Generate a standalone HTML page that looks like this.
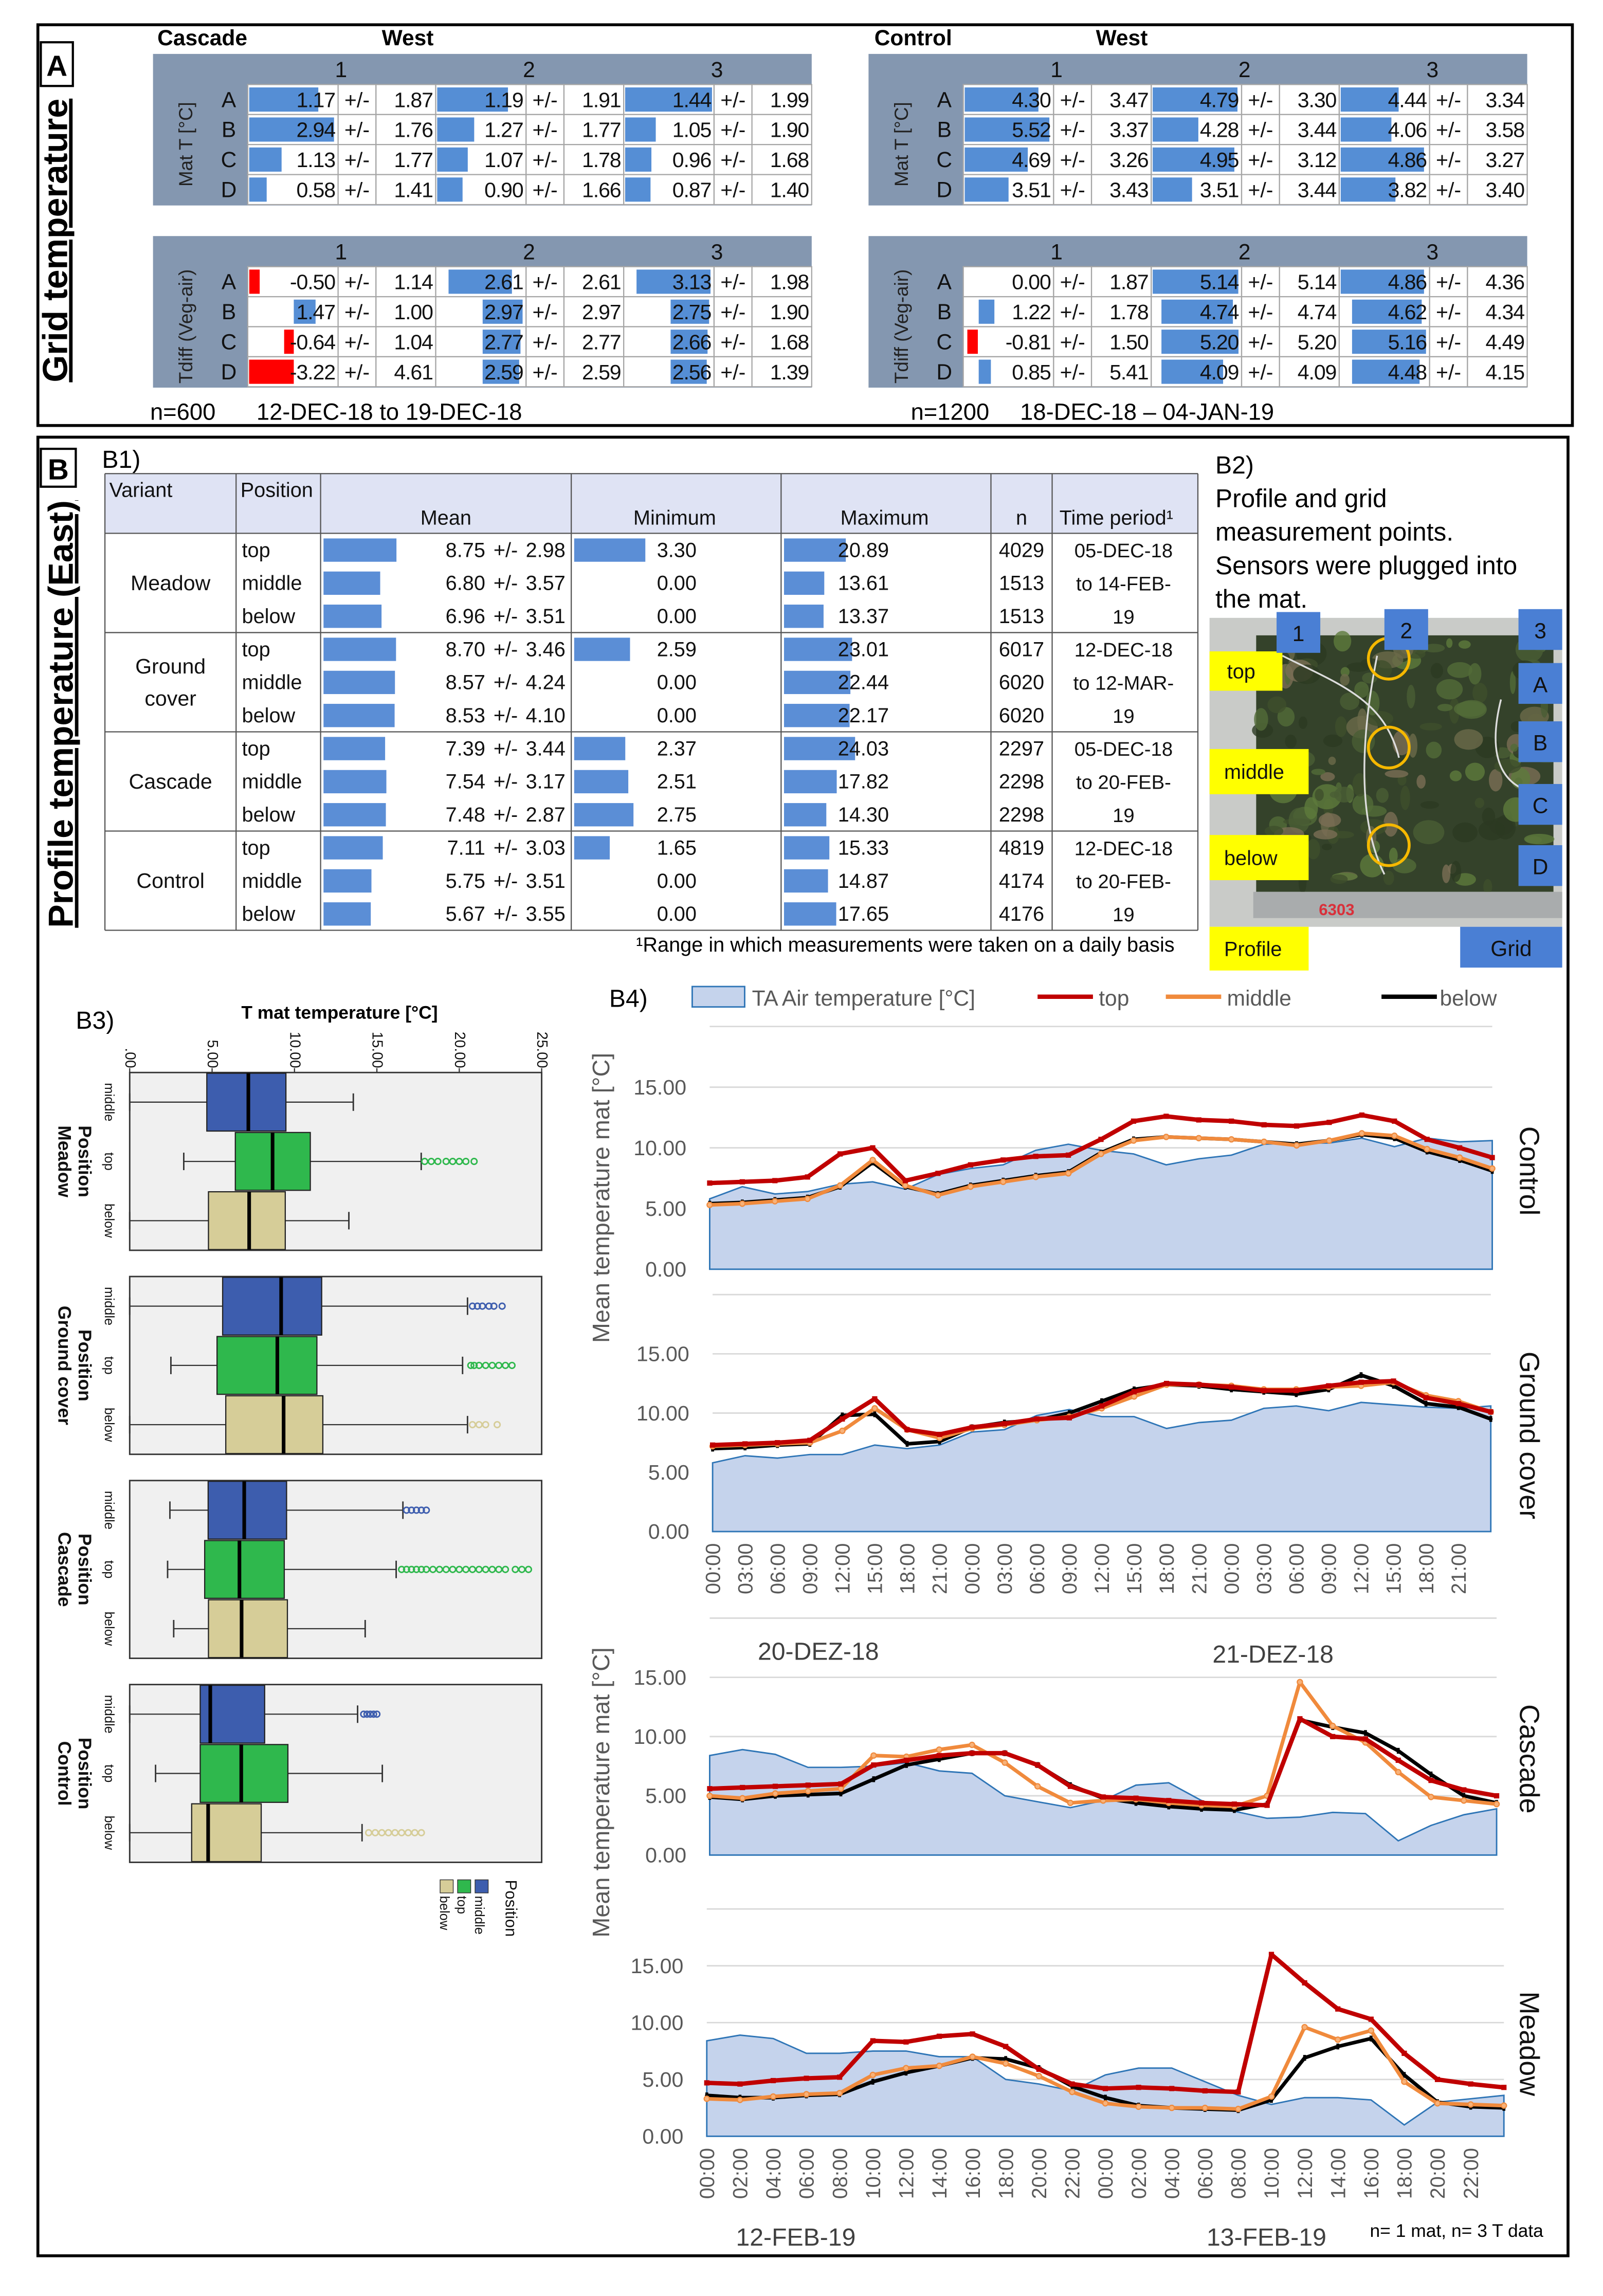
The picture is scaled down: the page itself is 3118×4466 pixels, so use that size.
<!DOCTYPE html>
<html><head><meta charset="utf-8">
<style>
html,body{margin:0;padding:0;background:#fff}
svg{display:block}
text{font-family:"Liberation Sans",Arial,sans-serif}
</style></head>
<body>
<svg id="fig" xmlns="http://www.w3.org/2000/svg" width="3118" height="4466" viewBox="0 0 1100 1575.6" preserveAspectRatio="none">
<rect x="0" y="0" width="1100" height="1575.6" fill="#fff"/>
<rect x="26" y="17" width="1053" height="275" fill="none" stroke="#000" stroke-width="2"/>
<rect x="28" y="29" width="22" height="30" fill="#fff" stroke="#000" stroke-width="1.5"/>
<text x="39" y="52" font-size="20" font-weight="bold" text-anchor="middle">A</text>
<text transform="translate(46,165) rotate(-90)" font-size="24" font-weight="bold" text-anchor="middle" text-decoration="underline">Grid temperature</text>
<text x="108" y="31" font-size="15" font-weight="bold">Cascade</text>
<text x="262" y="31" font-size="15" font-weight="bold">West</text>
<text x="600" y="31" font-size="15" font-weight="bold">Control</text>
<text x="752" y="31" font-size="15" font-weight="bold">West</text>
<text x="103" y="288" font-size="16">n=600</text>
<text x="176" y="288" font-size="16">12-DEC-18 to 19-DEC-18</text>
<text x="625" y="288" font-size="16">n=1200</text>
<text x="700" y="288" font-size="16">18-DEC-18 – 04-JAN-19</text>
<rect x="26" y="300" width="1050" height="1248" fill="none" stroke="#000" stroke-width="2"/>
<rect x="28" y="308" width="24" height="26" fill="#fff" stroke="#000" stroke-width="1.5"/>
<text x="40" y="329" font-size="20" font-weight="bold" text-anchor="middle">B</text>
<text transform="translate(50,490) rotate(-90)" font-size="24" font-weight="bold" text-anchor="middle" text-decoration="underline">Profile temperature (East)</text>
<text x="70" y="321" font-size="17">B1)</text>
<text x="834" y="325" font-size="17">B2)</text>
<text x="834" y="348" font-size="17.5">Profile and grid</text>
<text x="834" y="371" font-size="17.5">measurement points.</text>
<text x="834" y="394" font-size="17.5">Sensors were plugged into</text>
<text x="834" y="417" font-size="17.5">the mat.</text>
<text x="52" y="706" font-size="17">B3)</text>
<text x="233" y="699" font-size="12.5" font-weight="bold" text-anchor="middle">T mat temperature [°C]</text>
<text x="418" y="691" font-size="17">B4)</text>
<text x="806" y="653" font-size="14" text-anchor="end">¹Range in which measurements were taken on a daily basis</text>
<text x="940" y="1535" font-size="12.5">n= 1 mat, n= 3 T data</text>
<g id="dyn"></g>
</svg>
<script>
const gridRows = ['A','B','C','D'];
const gridCols = ['1','2','3'];
const cascMatMean = [[1.17,1.19,1.44],[2.94,1.27,1.05],[1.13,1.07,0.96],[0.58,0.90,0.87]];
const cascMatSd = [[1.87,1.91,1.99],[1.76,1.77,1.90],[1.77,1.78,1.68],[1.41,1.66,1.40]];
const cascMatScale = [[1.48,1.47,1.45],[3.03,3.0,3.0],[3.05,3.06,3.2],[2.9,3.1,3.0]];
const cascDiffMean = [[-0.50,2.61,3.13],[1.47,2.97,2.75],[-0.64,2.77,2.66],[-3.22,2.59,2.56]];
const cascDiffSd = [[1.14,2.61,1.98],[1.00,2.97,1.90],[1.04,2.77,1.68],[4.61,2.59,1.39]];
const cascDiffAxis = [[0.12,0.13,0.13],[0.51,0.52,0.52],[0.51,0.52,0.52],[0.51,0.52,0.52]];
const cascDiffScale = [[4.2,3.6,3.7],[5.9,6.5,6.25],[5.8,6.4,6.3],[6.3,6.2,6.2]];
const ctrlMatMean = [[4.30,4.79,4.44],[5.52,4.28,4.06],[4.69,4.95,4.86],[3.51,3.51,3.82]];
const ctrlMatSd = [[3.47,3.30,3.34],[3.37,3.44,3.58],[3.26,3.12,3.27],[3.43,3.44,3.40]];
const ctrlMatScale = [[5.1,4.94,6.7],[5.7,8.2,7.0],[6.5,5.3,5.1],[7.0,7.8,6.1]];
const ctrlDiffMean = [[0.00,5.14,4.86],[1.22,4.74,4.62],[-0.81,5.20,5.16],[0.85,4.09,4.48]];
const ctrlDiffSd = [[1.87,5.14,4.36],[1.78,4.74,4.34],[1.50,5.20,4.49],[5.41,4.09,4.15]];
const ctrlDiffAxis = [[0.16,0,0],[0.16,0.1,0.13],[0.15,0.1,0.13],[0.16,0.1,0.13]];
const ctrlDiffScale = [[6.8,5.25,5.1],[6.8,5.8,5.8],[6.75,5.9,6.1],[6.1,5.8,5.8]];

const b1Variants = ['Meadow','Ground cover','Cascade','Control'];
const b1Positions = ['top','middle','below'];
const b1Mean = [8.75,6.80,6.96,8.70,8.57,8.53,7.39,7.54,7.48,7.11,5.75,5.67];
const b1Sd = [2.98,3.57,3.51,3.46,4.24,4.10,3.44,3.17,2.87,3.03,3.51,3.55];
const b1Min = [3.30,0.00,0.00,2.59,0.00,0.00,2.37,2.51,2.75,1.65,0.00,0.00];
const b1Max = [20.89,13.61,13.37,23.01,22.44,22.17,24.03,17.82,14.30,15.33,14.87,17.65];
const b1N = [4029,1513,1513,6017,6020,6020,2297,2298,2298,4819,4174,4176];
const b1Period = [['05-DEC-18','to 14-FEB-','19'],['12-DEC-18','to 12-MAR-','19'],['05-DEC-18','to 20-FEB-','19'],['12-DEC-18','to 20-FEB-','19']];

const bpVariants = ['Meadow','Ground cover','Cascade','Control'];
const bpPositions = ['middle','top','below'];
const bpQ1 = [[4.68,6.41,4.78],[5.64,5.30,5.83],[4.76,4.55,4.78],[4.28,4.28,3.76]];
const bpMed = [[7.20,8.67,7.25],[9.19,8.96,9.34],[6.95,6.66,6.79],[4.89,6.77,4.76]];
const bpQ3 = [[9.48,10.96,9.44],[11.65,11.36,11.72],[9.52,9.38,9.57],[8.19,9.60,7.98]];
const bpLo = [[0,3.28,0],[0,2.50,0],[2.44,2.30,2.67],[0,1.57,0]];
const bpHi = [[13.57,17.69,13.30],[20.50,20.20,20.50],[16.58,16.17,14.29],[13.83,15.33,14.10]];
const bpOut = [
 [[],[17.9,18.3,18.7,19.2,19.6,20.0,20.4,20.9],[]],
 [[20.8,21.1,21.4,21.8,22.1,22.6],[20.7,20.9,21.2,21.6,22.0,22.4,22.8,23.2],[20.8,21.2,21.6,22.3]],
 [[16.8,17.1,17.4,17.7,18.0],[16.5,16.8,17.1,17.4,17.7,18.0,18.4,18.8,19.2,19.6,20.0,20.4,20.8,21.2,21.6,22.0,22.4,22.8,23.4,23.8,24.2],[]],
 [[14.2,14.4,14.6,14.8,15.0],[],[14.5,14.9,15.3,15.7,16.1,16.5,16.9,17.3,17.7]]
];
const bpTicks = [0,5,10,15,20,25];
const bpTickLabels = ['.00','5.00','10.00','15.00','20.00','25.00'];

const xLabels3h = ['00:00','03:00','06:00','09:00','12:00','15:00','18:00','21:00','00:00','03:00','06:00','09:00','12:00','15:00','18:00','21:00','00:00','03:00','06:00','09:00','12:00','15:00','18:00','21:00'];
const xLabels2h = ['00:00','02:00','04:00','06:00','08:00','10:00','12:00','14:00','16:00','18:00','20:00','22:00','00:00','02:00','04:00','06:00','08:00','10:00','12:00','14:00','16:00','18:00','20:00','22:00'];
const yTicks = [0,5,10,15];
const yTickLabels = ['0.00','5.00','10.00','15.00'];
const ctrlAir = [5.8,6.8,6.2,6.4,7.0,7.2,6.6,7.8,8.3,8.6,9.8,10.3,9.8,9.5,8.6,9.1,9.4,10.3,10.4,10.4,10.8,10.1,10.8,10.5,10.6];
const ctrlTop = [7.1,7.2,7.3,7.6,9.5,10.0,7.3,7.9,8.6,9.0,9.3,9.4,10.7,12.2,12.6,12.3,12.2,11.9,11.8,12.1,12.7,12.2,10.7,10.0,9.2];
const ctrlMid = [5.3,5.4,5.6,5.8,6.9,9.0,6.9,6.1,6.8,7.2,7.6,7.9,9.5,10.6,10.9,10.8,10.7,10.5,10.2,10.6,11.2,11.0,9.9,9.2,8.3];
const ctrlBelow = [5.4,5.5,5.7,5.9,6.8,8.8,6.8,6.2,6.9,7.3,7.7,8.0,9.6,10.7,10.9,10.8,10.7,10.5,10.3,10.6,11.1,10.8,9.7,9.0,8.1];
const gcAir = [5.8,6.4,6.2,6.5,6.5,7.3,7.0,7.3,8.4,8.6,9.8,10.3,9.7,9.7,8.7,9.2,9.4,10.4,10.6,10.2,10.9,10.7,10.5,10.4,10.6];
const gcTop = [7.3,7.4,7.5,7.7,9.5,11.2,8.6,8.2,8.8,9.1,9.5,9.6,10.6,11.8,12.5,12.4,12.2,11.9,11.9,12.3,12.6,12.7,11.3,10.8,10.1];
const gcMid = [7.2,7.3,7.4,7.5,8.5,10.4,8.6,7.9,8.7,9.0,9.4,9.7,10.4,11.4,12.4,12.4,12.3,12.0,12.0,12.2,12.3,12.6,11.5,11.0,10.1];
const gcBelow = [7.0,7.1,7.3,7.4,9.8,9.9,7.4,7.6,8.8,9.2,9.4,10.0,11.0,12.0,12.4,12.3,12.0,11.8,11.6,12.0,13.2,12.3,10.8,10.5,9.5];
const casAir = [8.4,8.9,8.5,7.4,7.4,7.5,7.8,7.1,6.9,5.0,4.5,4.0,4.6,5.9,6.1,4.6,3.7,3.1,3.2,3.6,3.5,1.2,2.5,3.4,3.9];
const casTop = [5.6,5.7,5.8,5.9,6.0,7.6,8.0,8.4,8.6,8.6,7.6,5.8,4.9,4.8,4.6,4.4,4.3,4.2,11.5,10.0,9.8,8.0,6.3,5.5,5.0];
const casMid = [5.0,4.8,5.2,5.4,5.6,8.4,8.3,8.9,9.3,7.8,5.8,4.4,4.6,4.7,4.4,4.2,4.1,5.0,14.6,10.9,9.5,7.0,4.9,4.6,4.3];
const casBelow = [4.9,4.7,5.0,5.1,5.2,6.4,7.6,8.1,8.6,8.6,7.6,5.9,4.8,4.4,4.1,3.9,3.8,4.3,11.4,10.8,10.3,8.8,6.8,5.0,4.4];
const meaAir = [8.4,8.9,8.6,7.3,7.3,7.5,7.5,7.0,7.0,5.0,4.6,4.0,5.4,6.0,6.0,4.8,3.6,2.8,3.4,3.4,3.2,1.0,3.0,3.3,3.6];
const meaTop = [4.7,4.6,4.9,5.1,5.2,8.4,8.3,8.8,9.0,7.9,5.9,4.6,4.2,4.3,4.2,4.0,3.9,16.0,13.5,11.2,10.3,7.3,5.0,4.6,4.3];
const meaMid = [3.3,3.2,3.5,3.7,3.8,5.4,6.0,6.2,7.0,6.4,5.3,3.9,2.9,2.6,2.5,2.5,2.4,3.5,9.6,8.5,9.3,4.8,2.9,2.8,2.7];
const meaBelow = [3.6,3.4,3.4,3.6,3.7,4.8,5.6,6.2,6.9,6.8,6.0,4.4,3.4,2.7,2.5,2.4,2.3,3.2,6.9,7.9,8.6,5.4,3.0,2.6,2.5];

const NS = 'http://www.w3.org/2000/svg';
const root = document.getElementById('dyn');
function mk(tag, attrs, parent){ const e = document.createElementNS(NS, tag); for (const k in attrs) e.setAttribute(k, attrs[k]); (parent||root).appendChild(e); return e; }
function tx(str, attrs, parent){ const e = mk('text', attrs, parent); e.textContent = str; return e; }

function gridTable(gx, gy, name, vlabel, means, sds, scales, axes, isDiff){
  const g = mk('g', {});
  
  
  const bg = mk('rect', {x:gx, y:gy, width:452, height:104, fill:'#8497b0'}, g);
  
  
  const vl = tx(vlabel, {transform:`translate(${gx+27},${gy+62}) rotate(-90)`, 'font-size':13, 'text-anchor':'middle', fill:'#222'}, g);
  
  
  const cellX0 = gx + 65, grpW = 129, rowH = 20.6;
  gridCols.forEach((c, ci) => {
    const h = tx(c, {x: cellX0 + grpW*ci + 64, y: gy+16, 'font-size':15, 'text-anchor':'middle', fill:'#111'}, g);
    
    
  });
  gridRows.forEach((r, ri) => {
    const ry = gy + 21 + rowH*ri;
    const lt = tx(r, {x: gx+52, y: ry+15.5, 'font-size':15, 'text-anchor':'middle', fill:'#111'}, g);
    
    
    gridCols.forEach((c, ci) => {
      const cx = cellX0 + grpW*ci;
      [[0,62],[62,26],[88,41]].forEach(([o,w]) => {
        const cell = mk('rect', {x:cx+o, y:ry, width:w, height:rowH, fill:'#fff', stroke:'#a6a6a6', 'stroke-width':0.8}, g);
        
        
      });
      const v = means[ri][ci];
      const sc = scales[ri][ci];
      let bx, bw, col = '#558ed5';
      if (!isDiff) { bx = cx+1; bw = Math.min(1, v/sc)*60; }
      else {
        const ax = cx + 1 + axes[ri][ci]*60;
        bw = Math.min(1, Math.abs(v)/sc)*60;
        if (v >= 0) bx = ax; else { bx = ax - bw; col = '#ff0000'; }
      }
      if (bw > 0.2) {
        const bar = mk('rect', {x:bx, y:ry+2, width:bw, height:rowH-4, fill:col}, g);
        
        
      }
      const vt = tx(v.toFixed(2), {x: cx+60, y: ry+15.5, 'font-size':14.5, 'letter-spacing':-0.4, 'text-anchor':'end', fill:'#111'}, g);
      
      
      const pm = tx('+/-', {x: cx+75, y: ry+15.5, 'font-size':14.5, 'text-anchor':'middle', fill:'#111'}, g);
      
      
      const st = tx(sds[ri][ci].toFixed(2), {x: cx+127, y: ry+15.5, 'font-size':14.5, 'letter-spacing':-0.4, 'text-anchor':'end', fill:'#111'}, g);
      
      
    });
  });
}
gridTable(105, 37, 'cascade-mat-temperature-table', 'Mat T [°C]', cascMatMean, cascMatSd, cascMatScale, null, false);
gridTable(105, 162, 'cascade-tdiff-table', 'Tdiff (Veg-air)', cascDiffMean, cascDiffSd, cascDiffScale, cascDiffAxis, true);
gridTable(596, 37, 'control-mat-temperature-table', 'Mat T [°C]', ctrlMatMean, ctrlMatSd, ctrlMatScale, null, false);
gridTable(596, 162, 'control-tdiff-table', 'Tdiff (Veg-air)', ctrlDiffMean, ctrlDiffSd, ctrlDiffScale, ctrlDiffAxis, true);

(function(){
  const g = mk('g', {});
  
  
  const X0 = 72, X1 = 822, HY = 325, DY = 366, RH = 22.7;
  const hb = mk('rect', {x:X0, y:HY, width:X1-X0, height:DY-HY, fill:'#dfe3f4'}, g);
  
  
  const heads = [['Variant',75,341,'start'],['Position',165,341,'start'],['Mean',306,360,'middle'],['Minimum',463,360,'middle'],['Maximum',607,360,'middle'],['n',701,360,'middle'],['Time period¹',727,360,'start']];
  heads.forEach(h => {
    const t = tx(h[0], {x:h[1], y:h[2], 'font-size':14, 'text-anchor':h[3], fill:'#111'}, g);
    
    
  });
  const yEnd = DY + RH*12;
  [X0,162,220,392,536,680,722,X1].forEach(x => {
    const l = mk('line', {x1:x, y1:HY, x2:x, y2:yEnd, stroke:'#555', 'stroke-width':0.8}, g);
    
    
  });
  [HY, DY, DY+RH*3, DY+RH*6, DY+RH*9, yEnd].forEach(y => {
    const l = mk('line', {x1:X0, y1:y, x2:X1, y2:y, stroke:'#555', 'stroke-width':0.8}, g);
    
    
  });
  b1Variants.forEach((v, vi) => {
    const cy = DY + RH*(vi*3+1.5);
    const words = v.split(' ');
    words.forEach((w, wi) => {
      const t = tx(w, {x:117, y: cy + 5 + (wi - (words.length-1)/2)*22, 'font-size':14.5, 'text-anchor':'middle', fill:'#111'}, g);
      
      
    });
    b1Period[vi].forEach((p, pi) => {
      const t = tx(p, {x:771, y: DY + RH*(vi*3+pi) + 16.5, 'font-size':13.5, 'text-anchor':'middle', fill:'#111'}, g);
      
      
    });
  });
  for (let i = 0; i < 12; i++) {
    const ry = DY + RH*i, by = ry + 16.2;
    const pos = tx(b1Positions[i%3], {x:166, y:by, 'font-size':14, fill:'#111'}, g);
    
    
    const mb = mk('rect', {x:222, y:ry+3.5, width:b1Mean[i]*5.72, height:16, fill:'#5b8ed6'}, g);
    
    
    if (b1Min[i] > 0) {
      const nb = mk('rect', {x:394, y:ry+3.5, width:b1Min[i]*14.8, height:16, fill:'#5b8ed6'}, g);
      
      
    }
    const xb = mk('rect', {x:538, y:ry+3.5, width:b1Max[i]*2.03, height:16, fill:'#5b8ed6'}, g);
    
    
    const cells = [[b1Mean[i].toFixed(2),333,'end','b1-mean-value'],['+/-',347,'middle','b1-plus-minus'],[b1Sd[i].toFixed(2),388,'end','b1-sd-value'],[b1Min[i].toFixed(2),478,'end','b1-min-value'],[b1Max[i].toFixed(2),610,'end','b1-max-value'],[String(b1N[i]),701,'middle','b1-n-value']];
    cells.forEach(c => {
      const t = tx(c[0], {x:c[1], y:by, 'font-size':14, 'text-anchor':c[2], fill:'#111'}, g);
      
      
    });
  }
})();

(function(){
  const g = mk('g', {});
  
  
  const base = mk('rect', {x:830, y:424, width:242, height:212, fill:'#c9cbc8'}, g);
  
  
  const mat = mk('rect', {x:862, y:436, width:204, height:176, fill:'#34422a'}, g);
  
  
  let s = 7;
  function rnd(){ s = (s*9301 + 49297) % 233280; return s/233280; }
  const cols = ['#2c3a22','#4a5e34','#5e7a3c','#3f4f2c','#6b6a4a','#7a6e55','#526b38'];
  for (let i = 0; i < 160; i++) {
    const b = mk('ellipse', {cx: 865 + rnd()*198, cy: 440 + rnd()*170, rx: 2 + rnd()*9, ry: 2 + rnd()*7, fill: cols[Math.floor(rnd()*cols.length)], opacity: 0.8}, g);
    
    
  }
  const wire = mk('path', {d:'M880,450 C920,470 950,480 960,520 M945,450 C935,500 930,560 950,600 M1030,480 C1020,520 1030,545 1065,545', stroke:'#ddd', fill:'none', 'stroke-width':1.2}, g);
  
  
  const trough = mk('rect', {x:860, y:612, width:212, height:18, fill:'#a9acad'}, g);
  
  
  const num = tx('6303', {x:905, y:628, 'font-size':11, 'font-weight':'bold', fill:'#d9303a'}, g);
  
  
  [452,513,580].forEach(cy => {
    const c = mk('circle', {cx:953, cy:cy, r:14, fill:'none', stroke:'#f5b800', 'stroke-width':2}, g);
    
    
  });
  const yl = [['top',830,447,50,27],['middle',830,514,68,31],['below',830,573,68,31],['Profile',830,636,68,30]];
  yl.forEach(l => {
    const r = mk('rect', {x:l[1], y:l[2], width:l[3], height:l[4], fill:'#ffff00'}, g);
    
    
    const t = tx(l[0], {x:l[1]+(l[0]==='top'?12:10), y:l[2]+l[4]/2+5, 'font-size':14, fill:'#111'}, g);
    
    
  });
  const bl = [['1',876,420,30,28],['2',950,418,30,28],['3',1042,418,30,28],['A',1042,455,30,28],['B',1042,495,30,28],['C',1042,538,30,28],['D',1042,580,30,28],['Grid',1002,636,70,28]];
  bl.forEach(l => {
    const r = mk('rect', {x:l[1], y:l[2], width:l[3], height:l[4], fill:'#4a7fd4'}, g);
    
    
    const t = tx(l[0], {x:l[1]+l[3]/2, y:l[2]+l[4]/2+6, 'font-size':15, 'text-anchor':'middle', fill:'#111'}, g);
    
    
  });
})();

(function(){
  const g = mk('g', {});
  
  
  const PX0 = 89, PX1 = 371.7, VMAX = 25;
  const xs = v => PX0 + v*(PX1-PX0)/VMAX;
  const tops = [736, 876, 1016, 1156], PH = 122;
  const fills = ['#3d5dae','#2fb84d','#d6cd98'];
  bpTicks.forEach((t, i) => {
    const lab = tx(bpTickLabels[i], {transform:`translate(${xs(t)-3},733) rotate(90)`, 'font-size':10, 'text-anchor':'end', fill:'#111'}, g);
    
    
    const tk = mk('line', {x1:xs(t), y1:733, x2:xs(t), y2:736, stroke:'#333', 'stroke-width':0.8}, g);
    
    
  });
  bpVariants.forEach((v, vi) => {
    const y0 = tops[vi];
    const pr = mk('rect', {x:PX0, y:y0, width:PX1-PX0, height:PH, fill:'#f0f0f0', stroke:'#333', 'stroke-width':1}, g);
    
    
    const gl = tx(v, {transform:`translate(40,${y0+PH/2}) rotate(90)`, 'font-size':12.5, 'font-weight':'bold', 'text-anchor':'middle', fill:'#111'}, g);
    
    
    const pl = tx('Position', {transform:`translate(54,${y0+PH/2}) rotate(90)`, 'font-size':12.5, 'font-weight':'bold', 'text-anchor':'middle', fill:'#111'}, g);
    
    
    bpPositions.forEach((p, pi) => {
      const cy = y0 + PH*(pi+0.5)/3, hh = PH/6 - 0.5;
      const cl = tx(p, {transform:`translate(72,${cy}) rotate(90)`, 'font-size':9, 'text-anchor':'middle', fill:'#111'}, g);
      
      
      const wl = mk('line', {x1:xs(bpLo[vi][pi]), y1:cy, x2:xs(bpHi[vi][pi]), y2:cy, stroke:'#333', 'stroke-width':0.8}, g);
      
      
      [bpLo[vi][pi], bpHi[vi][pi]].forEach(w => {
        const cap = mk('line', {x1:xs(w), y1:cy-6, x2:xs(w), y2:cy+6, stroke:'#333', 'stroke-width':1}, g);
        
        
      });
      const box = mk('rect', {x:xs(bpQ1[vi][pi]), y:cy-hh, width:xs(bpQ3[vi][pi])-xs(bpQ1[vi][pi]), height:2*hh, fill:fills[pi], stroke:'#222', 'stroke-width':0.8}, g);
      
      
      const med = mk('line', {x1:xs(bpMed[vi][pi]), y1:cy-hh, x2:xs(bpMed[vi][pi]), y2:cy+hh, stroke:'#000', 'stroke-width':2.5}, g);
      
      
      bpOut[vi][pi].forEach(o => {
        const oc = mk('circle', {cx:xs(o), cy:cy, r:2, fill:'none', stroke:fills[pi], 'stroke-width':1}, g);
        
        
      });
    });
  });
  const lt = tx('Position', {transform:'translate(347,1290) rotate(90)', 'font-size':11, fill:'#111'}, g);
  
  
  bpPositions.forEach((p, pi) => {
    const lx = 330 - pi*12;
    const sq = mk('rect', {x:lx-4, y:1290, width:9, height:9, fill:fills[pi], stroke:'#333', 'stroke-width':0.5}, g);
    
    
    const t = tx(p, {transform:`translate(${lx-4},1301) rotate(90)`, 'font-size':9, fill:'#111'}, g);
    
    
  });
})();

const b4Charts = [
  {name:'control', label:'Control', x0:487, x1:1024, y0:871, k:8.33, air:ctrlAir, top:ctrlTop, mid:ctrlMid, below:ctrlBelow, labels:null},
  {name:'ground-cover', label:'Ground cover', x0:489, x1:1023, y0:1051, k:8.13, air:gcAir, top:gcTop, mid:gcMid, below:gcBelow, labels:xLabels3h},
  {name:'cascade', label:'Cascade', x0:487, x1:1027, y0:1273, k:8.13, air:casAir, top:casTop, mid:casMid, below:casBelow, labels:null},
  {name:'meadow', label:'Meadow', x0:485, x1:1032, y0:1466, k:7.8, air:meaAir, top:meaTop, mid:meaMid, below:meaBelow, labels:xLabels2h}
];
b4Charts.forEach(c => {
  const g = mk('g', {});
  
  
  const n = c.air.length;
  const xs = i => c.x0 + i*(c.x1-c.x0)/(n-1);
  const ys = v => c.y0 - v*c.k;
  [5,10,15,20].forEach(v => {
    const gl = mk('line', {x1:c.x0, y1:ys(v), x2:c.x1, y2:ys(v), stroke:'#d9d9d9', 'stroke-width':1}, g);
    
    
  });
  yTicks.forEach((t, i) => {
    const lab = tx(yTickLabels[i], {x:c.x0-16, y:ys(t)+5, 'font-size':14.5, 'text-anchor':'end', fill:'#595959'}, g);
    
    
  });
  let d = `M${xs(0)},${c.y0}`;
  c.air.forEach((v, i) => { d += ` L${xs(i)},${ys(v)}`; });
  d += ` L${xs(n-1)},${c.y0} Z`;
  const area = mk('path', {d:d, fill:'#c5d3ec', stroke:'#2e75b6', 'stroke-width':1}, g);
  
  
  const series = [['below','#000000',2.5],['mid','#f08a3c',2.5],['top','#c00000',3]];
  series.forEach(([key, col, w]) => {
    const pts = c[key].map((v, i) => `${xs(i)},${ys(v)}`).join(' ');
    const pl = mk('polyline', {points:pts, fill:'none', stroke:col, 'stroke-width':w, 'stroke-linejoin':'round', 'stroke-linecap':'round'}, g);
    
    
    c[key].forEach((v, i) => {
      let m;
      if (key === 'top') m = mk('rect', {x:xs(i)-1.8, y:ys(v)-1.8, width:3.6, height:3.6, fill:col}, g);
      else if (key === 'mid') m = mk('circle', {cx:xs(i), cy:ys(v), r:1.8, fill:'#f7b27a', stroke:col, 'stroke-width':0.8}, g);
      else m = mk('rect', {x:xs(i)-1, y:ys(v)-2, width:2, height:4, fill:col}, g);
      
      
    });
  });
  const vl = tx(c.label, {transform:`translate(1043,${(ys(15)+c.y0)/2 - 5}) rotate(90)`, 'font-size':19, 'text-anchor':'middle', fill:'#111'}, g);
  
  
  if (c.labels) {
    c.labels.forEach((l, i) => {
      const t = tx(l, {transform:`translate(${xs(i)+5},${c.y0+8}) rotate(-90)`, 'font-size':14, 'text-anchor':'end', fill:'#595959'}, g);
      
      
    });
  }
});
[[418,822],[418,1230]].forEach(p => {
  const t = tx('Mean temperature mat [°C]', {transform:`translate(${p[0]},${p[1]}) rotate(-90)`, 'font-size':16.5, 'text-anchor':'middle', fill:'#595959'});
  
  
});
[['20-DEZ-18',520,1139],['21-DEZ-18',832,1141],['12-FEB-19',505,1541],['13-FEB-19',828,1541]].forEach(dd => {
  const t = tx(dd[0], {x:dd[1], y:dd[2], 'font-size':17, fill:'#404040'});
  
  
});
(function(){
  const g = mk('g', {});
  
  
  const sw = mk('rect', {x:475, y:677, width:36, height:14, fill:'#c5d3ec', stroke:'#2e75b6', 'stroke-width':1}, g);
  
  
  const t0 = tx('TA Air temperature [°C]', {x:516, y:690, 'font-size':15, fill:'#595959'}, g);
  
  
  [['top','#c00000',712,754],['middle','#f08a3c',800,842],['below','#000',948,988]].forEach(l => {
    const ln = mk('line', {x1:l[2], y1:684, x2:l[2]+38, y2:684, stroke:l[1], 'stroke-width':3}, g);
    
    
    const t = tx(l[0], {x:l[3], y:690, 'font-size':15, fill:'#595959'}, g);
    
    
  });
})();
</script>
</body></html>
